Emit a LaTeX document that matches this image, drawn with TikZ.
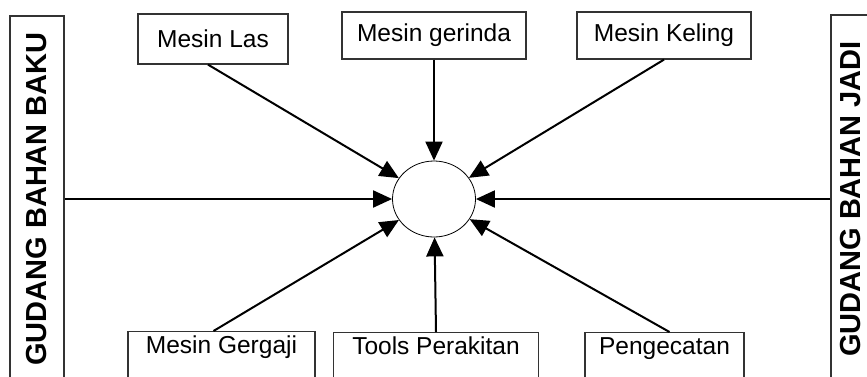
\documentclass[tikz,border=0pt]{standalone}
\usepackage{fontspec}
\setmainfont{Liberation Sans}
\usetikzlibrary{shapes,arrows.meta}

\begin{document}
\begin{tikzpicture}[x=1pt,y=-1pt]

\tikzstyle{block} = [draw, text centered, draw=black!80, line width=1.2pt, fill=white, inner sep=0pt, font=\fontsize{24.5}{27}\selectfont]
\tikzstyle{lowblock} = [block, anchor=north, text height=22pt, text depth=30pt]
\tikzstyle{gudang} = [draw, text centered, draw=black!80, line width=1.2pt, fill=white, inner sep=0pt, rotate=90, font=\fontsize{29}{31}\selectfont\bfseries]
\tikzstyle{arrow} = [line width=2pt, -{Triangle[length=19pt,width=17pt]}]

\useasboundingbox (0,0) rectangle (867,376);

\coordinate (anchor) at (434,199);

%Center: empty circle

\path (anchor)+(0,0) node (pusat) [ellipse, draw, line width=0.8pt, minimum width=83, minimum height=76, inner sep=0pt] {};

%Warehouses: left and right

\path (anchor)+(-397,0) node (baku) [gudang, minimum width=366, minimum height=54] {GUDANG BAHAN BAKU};

\path (anchor)+(417,0) node (jadi) [gudang, minimum width=368, minimum height=40] {GUDANG BAHAN JADI};

%Machines: top row

\path (anchor)+(-221,-160) node (las) [block, minimum width=150, minimum height=50] {Mesin Las};

\path (anchor)+(0,-163.5) node (gerinda) [block, minimum width=184, minimum height=47] {Mesin gerinda};

\path (anchor)+(230,-163.5) node (keling) [block, minimum width=174, minimum height=47] {Mesin Keling};

%Machines: bottom row

\path (anchor)+(-212.5,132) node (gergaji) [lowblock, minimum width=187] {Mesin Gergaji};

\path (anchor)+(2,133) node (tools) [lowblock, minimum width=205] {Tools Perakitan};

\path (anchor)+(230.5,133) node (pengecatan) [lowblock, minimum width=159] {Pengecatan};

%Arrows

\path (las.south)+(-5,0) coordinate (arrow_las);
\path (gergaji.north)+(-8,0) coordinate (arrow_gergaji);
\path (pengecatan.north)+(5,0) coordinate (arrow_pengecatan);

\draw [arrow] (baku) -- (pusat);
\draw [arrow] (jadi) -- (pusat);
\draw [arrow] (arrow_las) -- (pusat);
\draw [arrow] (gerinda.south) -- (pusat);
\draw [arrow] (keling.south) -- (pusat);
\draw [arrow] (arrow_gergaji) -- (pusat);
\draw [arrow] (tools.north) -- (pusat);
\draw [arrow] (arrow_pengecatan) -- (pusat);

\end{tikzpicture}
\end{document}
